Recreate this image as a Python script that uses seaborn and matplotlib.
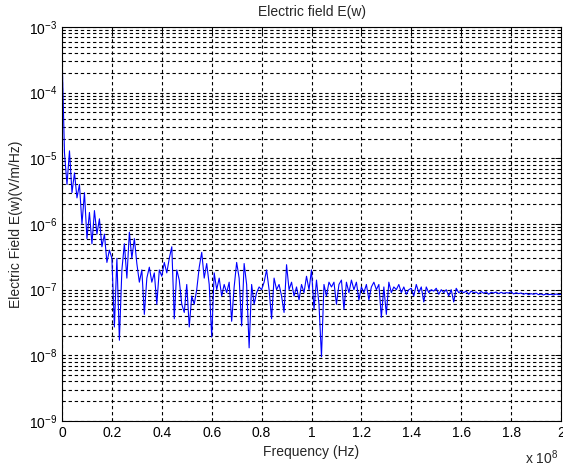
import numpy as np
import pandas as pd
import matplotlib
matplotlib.use("Agg")
import matplotlib.pyplot as plt
from matplotlib.ticker import FixedLocator, LogLocator, FuncFormatter, NullFormatter
import seaborn as sns

# Spectrum samples, one every 1 MHz from 0 to 200 MHz
freq_step_hz = 1e6
e_field = [
    4e-4, 1.2e-5, 4e-6, 1.3e-5, 3e-6, 6e-6, 2.5e-6, 4e-6, 1e-6, 3e-6,
    6e-7, 1.5e-6, 5e-7, 1.6e-6, 7e-7, 1.2e-6, 4.5e-7, 7e-7, 2.6e-7, 4e-7,
    3e-7, 2.7e-8, 3e-7, 1.7e-8, 2e-7, 5e-7, 1.5e-7, 7.5e-7, 3e-7, 6e-7,
    2.5e-7, 1.3e-7, 2e-7, 4.2e-8, 1.5e-7, 2.2e-7, 1.3e-7, 1.8e-7, 6e-8, 2e-7,
    1.6e-7, 2.6e-7, 1.8e-7, 3e-7, 4.5e-7, 3.6e-8, 2e-7, 1.4e-7, 6e-8, 4.5e-8,
    1.2e-7, 2.7e-8, 8e-8, 6e-8, 1e-7, 2.2e-7, 3.7e-7, 1.5e-7, 2.5e-7, 1.2e-7,
    1.9e-8, 1.8e-7, 1e-7, 1.5e-7, 8e-8, 1.2e-7, 9e-8, 1.3e-7, 3.3e-8, 1.1e-7,
    2.6e-7, 1.5e-7, 2.8e-8, 2.5e-7, 1.2e-7, 1.3e-8, 1.2e-7, 6e-8, 9e-8, 1.1e-7,
    1e-7, 1.3e-7, 2e-7, 1e-7, 3.6e-8, 1.5e-7, 1e-7, 1.2e-7, 8e-8, 4.5e-8,
    2.4e-7, 1e-7, 1.3e-7, 8e-8, 1.1e-7, 7e-8, 1.2e-7, 9e-8, 1.6e-7, 1e-7,
    2e-7, 5e-8, 1.4e-7, 6e-8, 9.5e-9, 1.2e-7, 8e-8, 1.3e-7, 1.1e-7, 1.3e-7,
    6e-8, 1.2e-7, 1.4e-7, 5e-8, 1.3e-7, 9e-8, 1.4e-7, 1e-7, 1.3e-7, 7e-8,
    1.1e-7, 9e-8, 1.2e-7, 7e-8, 1.1e-7, 1.3e-7, 1e-7, 1.2e-7, 3.8e-8, 1.1e-7,
    4.2e-8, 1.3e-7, 9e-8, 1.1e-7, 1e-7, 1.2e-7, 9e-8, 1.1e-7, 8.5e-8, 1e-7,
    1.05e-7, 8e-8, 1.2e-7, 9e-8, 1.1e-7, 6.5e-8, 1.1e-7, 9e-8, 1e-7, 9.5e-8,
    1.05e-7, 8.5e-8, 1e-7, 9e-8, 1e-7, 8e-8, 1e-7, 6.5e-8, 1.05e-7, 9e-8,
    9.5e-8, 9e-8, 9.5e-8, 8.5e-8, 9.5e-8, 9e-8, 9.2e-8, 8.6e-8, 9.4e-8, 8.8e-8,
    9.3e-8, 8.5e-8, 9.1e-8, 8.9e-8, 9.2e-8, 8.7e-8, 9.1e-8, 8.8e-8, 9e-8, 8.9e-8,
    9.3e-8, 8.6e-8, 9e-8, 8.7e-8, 8.9e-8, 8.5e-8, 8.8e-8, 8.4e-8, 8.7e-8, 8.5e-8,
    8.8e-8, 8.4e-8, 8.6e-8, 8.3e-8, 8.6e-8, 8.4e-8, 8.5e-8, 8.3e-8, 8.6e-8, 8.4e-8,
    8.5e-8,
]
x_ticks = [0, 0.2, 0.4, 0.6, 0.8, 1.0, 1.2, 1.4, 1.6, 1.8, 2.0]
x_scale = 1e8

df = pd.DataFrame({
    "freq": np.arange(len(e_field)) * freq_step_hz,
    "E": e_field,
})

sns.set_style("white")
plt.rcParams["font.family"] = ["Liberation Sans", "DejaVu Sans"]
plt.rcParams["mathtext.fontset"] = "custom"
plt.rcParams["mathtext.rm"] = "Liberation Sans"
plt.rcParams["mathtext.it"] = "Liberation Sans:italic"

fig = plt.figure(figsize=(5.63, 4.68), dpi=100)
ax = fig.add_axes([62 / 563, 1 - 421 / 468, 499 / 563, 394 / 468])

sns.lineplot(data=df, x="freq", y="E", ax=ax, color="#0000ff", linewidth=0.8)

ax.set_yscale("log")
ax.set_xlim(0, 2e8)
ax.set_ylim(1e-9, 1e-3)

ax.xaxis.set_major_locator(FixedLocator([t * x_scale for t in x_ticks]))
ax.xaxis.set_major_formatter(FuncFormatter(lambda v, p: f"{v / x_scale:g}"))
ax.yaxis.set_major_locator(LogLocator(base=10, numticks=20))
ax.yaxis.set_minor_locator(LogLocator(base=10, subs=np.arange(2, 10), numticks=100))
ax.yaxis.set_minor_formatter(NullFormatter())

grid_kw = dict(color="black", linestyle=(0, (3, 2.5)), linewidth=0.8)
ax.grid(True, which="major", axis="both", **grid_kw)
ax.grid(True, which="minor", axis="y", **grid_kw)
ax.set_axisbelow(True)

ax.tick_params(axis="both", which="both", direction="in", labelsize=10,
               colors="black", top=True, right=True)
ax.tick_params(axis="both", which="major", length=4, width=0.7)
ax.tick_params(axis="y", which="minor", length=2, width=0.6)
for s in ax.spines.values():
    s.set_color("black")
    s.set_linewidth(0.8)

ax.set_xlabel("Frequency (Hz)", fontsize=10, labelpad=4)
ax.set_ylabel("Electric Field E(w)(V/m/Hz)", fontsize=10, labelpad=4)
ax.set_title("Electric field E(w)", fontsize=10, pad=8)
fig.text(525 / 563, 1 - 458 / 468, r"x 10$^{8}$", fontsize=10, ha="left", va="center")

fig.savefig("out.png", dpi=100, facecolor="white")
